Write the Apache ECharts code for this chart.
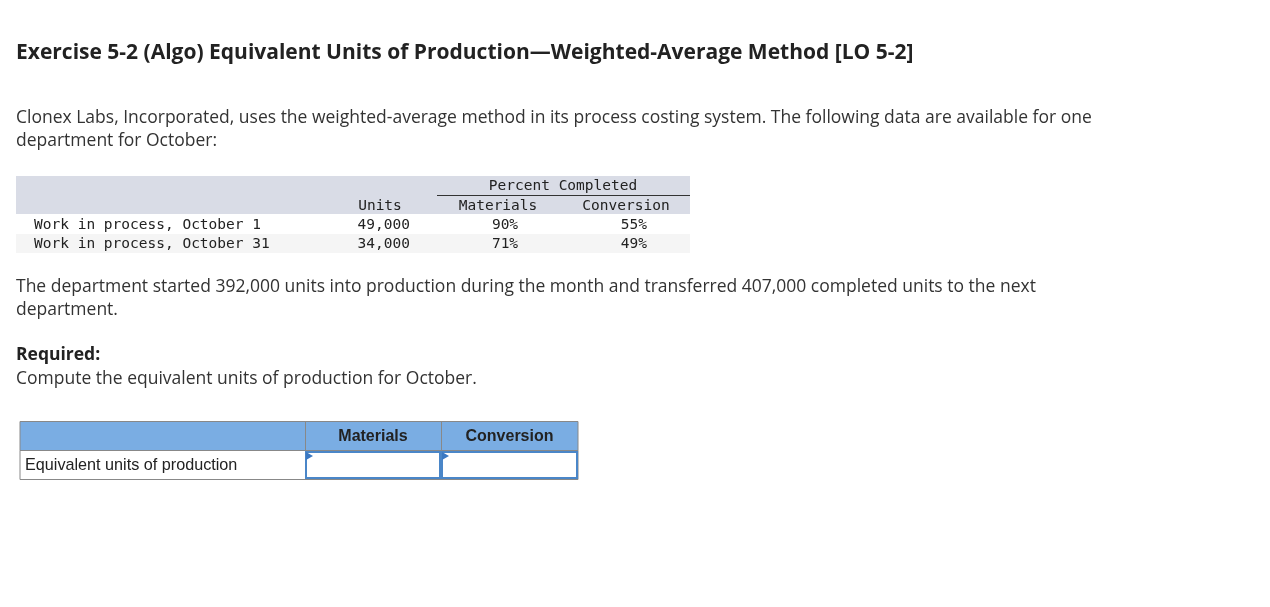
<!DOCTYPE html>
<html><head><meta charset="utf-8">
<script src="https://cdn.jsdelivr.net/npm/echarts@6/dist/echarts.min.js"></script>
<style>html,body{margin:0;padding:0;background:#fff}#c{width:1270px;height:607px}</style>
</head><body><div id="c"></div>
<script>
const title = "Exercise 5-2 (Algo) Equivalent Units of Production\u2014Weighted-Average Method [LO 5-2]";
const intro = ["Clonex Labs, Incorporated, uses the weighted-average method in its process costing system. The following data are available for one", "department for October:"];
const rowLabels = ["Work in process, October 1", "Work in process, October 31"];
const units = ["49,000", "34,000"];
const materialsPct = ["90%", "71%"];
const conversionPct = ["55%", "49%"];
const para2 = ["The department started 392,000 units into production during the month and transferred 407,000 completed units to the next", "department."];
const required = "Required:";
const task = "Compute the equivalent units of production for October.";
const answerCols = ["Materials", "Conversion"];
const answerRow = "Equivalent units of production";

const sans = "Liberation Sans, Arial, sans-serif";
const body = "'Open Sans', sans-serif";
const mono = "DejaVu Sans Mono, monospace";
const g = [];
function txt(x, y, s, o) {
  g.push({type:'text', x, y, style: Object.assign({text:s, fill:'#333', font:'17.5px '+body, textVerticalAlign:'middle'}, o||{})});
}
function rect(x, y, w, h, st) { g.push({type:'rect', shape:{x,y,width:w,height:h}, style:st}); }

txt(16, 53, title, {font:'bold 21px '+body, fill:'#222'});
intro.forEach((s,i)=>txt(16, 118+i*23, s));

// data table
rect(16, 176, 674, 38, {fill:'#d9dce6'});
rect(16, 234, 674, 19, {fill:'#f5f5f5'});
g.push({type:'line', shape:{x1:437,y1:195.5,x2:690,y2:195.5}, style:{stroke:'#333', lineWidth:1}});
const mf = '14.5px '+mono;
txt(563, 186, "Percent Completed", {font:mf, textAlign:'center', fill:'#222'});
txt(380, 206, "Units", {font:mf, textAlign:'center', fill:'#222'});
txt(498, 206, "Materials", {font:mf, textAlign:'center', fill:'#222'});
txt(626, 206, "Conversion", {font:mf, textAlign:'center', fill:'#222'});
rowLabels.forEach((s,i)=>{
  const y = 225 + i*19;
  txt(34, y, s, {font:mf, fill:'#222'});
  txt(410, y, units[i], {font:mf, textAlign:'right', fill:'#222'});
  txt(505, y, materialsPct[i], {font:mf, textAlign:'center', fill:'#222'});
  txt(647, y, conversionPct[i], {font:mf, textAlign:'right', fill:'#222'});
});

para2.forEach((s,i)=>txt(16, 287+i*23, s));
txt(16, 355, required, {font:'bold 17.5px '+body, fill:'#222'});
txt(16, 379, task);

// answer table
const cx = [20, 305, 441, 578];
rect(20, 421.5, 558, 29, {fill:'#7aade3', stroke:'#888', lineWidth:1});
rect(20, 450.5, 558, 29, {fill:'#fff', stroke:'#888', lineWidth:1});
g.push({type:'line', shape:{x1:305.5,y1:421,x2:305.5,y2:480}, style:{stroke:'#888'}});
g.push({type:'line', shape:{x1:441.5,y1:421,x2:441.5,y2:480}, style:{stroke:'#888'}});
answerCols.forEach((s,i)=>{
  txt((cx[i+1]+cx[i+2])/2, 437, s, {font:'bold 16px '+sans, textAlign:'center', fill:'#222'});
  rect(cx[i+1]+1, 452, cx[i+2]-cx[i+1]-2, 26, {fill:'#fff', stroke:'#4a86c8', lineWidth:2});
  g.push({type:'polygon', shape:{points:[[cx[i+1]+1,452],[cx[i+1]+8,456],[cx[i+1]+1,460]]}, style:{fill:'#3b78c2'}});
});
txt(25, 466, answerRow, {font:'16.2px '+sans, fill:'#222'});

const chart = echarts.init(document.getElementById('c'));
chart.setOption({animation:false, graphic:{elements:g}});
</script></body></html>
